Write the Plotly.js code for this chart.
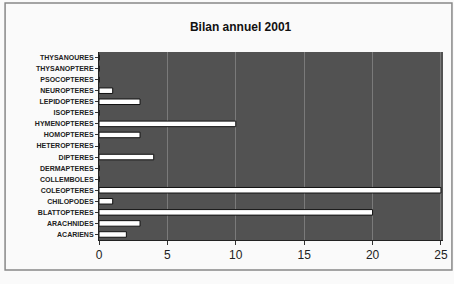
<!DOCTYPE html>
<html><head><meta charset="utf-8">
<script src="https://cdn.plot.ly/plotly-3.0.1.min.js"></script>
<style>html,body{margin:0;padding:0;background:#fff;}#chart{width:454px;height:284px;}</style>
</head><body><div id="chart"></div>
<script>
const categories = ["ACARIENS","ARACHNIDES","BLATTOPTERES","CHILOPODES","COLEOPTERES","COLLEMBOLES","DERMAPTERES","DIPTERES","HETEROPTERES","HOMOPTERES","HYMENOPTERES","ISOPTERES","LEPIDOPTERES","NEUROPTERES","PSOCOPTERES","THYSANOPTERE","THYSANOURES"];
const values = [2,3,20,1,25,0,0,4,0,3,10,0,3,1,0,0,0];
const xTicks = [0,5,10,15,20,25];

Plotly.newPlot('chart', [{
  type: 'bar', orientation: 'h',
  y: categories, x: values,
  marker: {color: '#ffffff', line: {color: '#111', width: 1}},
  hoverinfo: 'none'
}], {
  width: 454, height: 284,
  margin: {l: 99, r: 11, t: 52, b: 44},
  paper_bgcolor: '#fafafa',
  plot_bgcolor: '#525252',
  bargap: 0.5,
  showlegend: false,
  title: {text: '<b>Bilan annuel 2001</b>', x: 0.53, xanchor: 'center', y: 0.905, yanchor: 'middle',
          font: {family: 'Liberation Sans, Arial', size: 12, color: '#111'}},
  xaxis: {range: [0, 25.15], tickvals: xTicks, ticks: 'outside', ticklen: 4, tickcolor: '#333',
          showgrid: true, gridcolor: '#7a7a7a', gridwidth: 1, zeroline: false,
          showline: true, linecolor: '#222', linewidth: 1,
          tickfont: {family: 'Liberation Sans, Arial', size: 12, color: '#222'}},
  yaxis: {type: 'category', categoryorder: 'array', categoryarray: categories,
          ticks: 'outside', ticklen: 3, tickcolor: '#333',
          showline: true, linecolor: '#222', showgrid: false,
          tickfont: {family: 'Liberation Sans, Arial', size: 7, color: '#222', weight: 'bold'}},
  shapes: [{type: 'rect', xref: 'paper', yref: 'paper', x0: -0.273, x1: 1.026, y0: -0.16, y1: 1.26,
            line: {color: '#888', width: 1.5}, fillcolor: 'rgba(0,0,0,0)'}]
}, {staticPlot: true});
</script></body></html>
